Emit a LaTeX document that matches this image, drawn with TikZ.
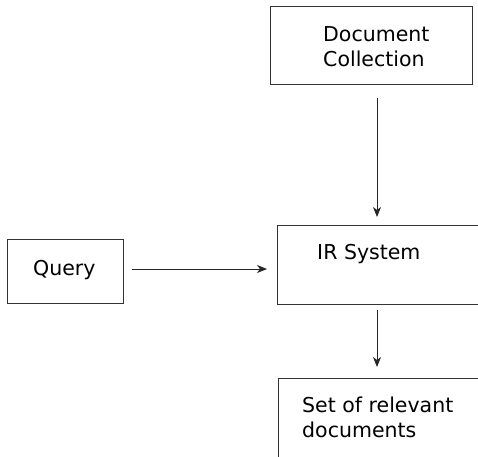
\documentclass[tikz,border=0pt]{standalone}
\usepackage{fontspec}
\setmainfont{DejaVu Sans}
\usetikzlibrary{arrows.meta}
\tikzset{
  box/.style={draw=black!80, line width=1pt, anchor=north west, inner sep=0pt},
  lbl/.style={anchor=base west, inner sep=0pt, align=left, font=\fontsize{20.5}{25}\selectfont, text=black},
  arr/.style={draw=black!85, line width=0.9pt, -{Stealth[length=10pt,width=8pt,inset=3pt]}}
}
\begin{document}
\begin{tikzpicture}[x=1pt,y=-1pt]
\clip (0,0) rectangle (478,456);
\useasboundingbox (0,0) rectangle (478,456);
% boxes
\node[box, minimum width=202pt, minimum height=78pt] (dc) at (270,6) {};
\node[box, minimum width=250pt, minimum height=79pt] (ir) at (277,225) {};
\node[box, minimum width=116pt, minimum height=64pt] (q) at (7,239) {};
\node[box, minimum width=250pt, minimum height=120pt] (set) at (278,378) {};
% labels (base = baseline of last line)
\node[lbl] (dct) at (323,66) {Document\\Collection};
\node[lbl] (irt) at (317,259) {IR System};
\node[lbl] (qt) at (33,275) {Query};
\node[lbl] (sett) at (302,437) {Set of relevant\\documents};
% connector guides
\coordinate (ax) at (377,0);
\coordinate (ay) at (0,269);
% connectors
\draw[arr, shorten <=13pt, shorten >=8pt] (dc.south -| ax) -- (ir.north -| ax);
\draw[arr, shorten <=8pt, shorten >=10pt] (q.east |- ay) -- (ir.west |- ay);
\draw[arr, shorten <=5pt, shorten >=11pt] (ir.south -| ax) -- (set.north -| ax);
\end{tikzpicture}
\end{document}
